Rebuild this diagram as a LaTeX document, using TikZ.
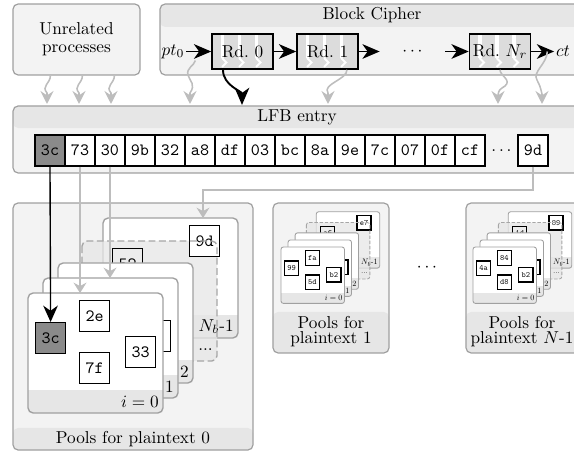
\documentclass[tikz,border=0pt]{standalone}
\usetikzlibrary{arrows.meta,calc}

\definecolor{panelfill}{HTML}{F3F3F3}
\definecolor{bandfill}{HTML}{E6E6E6}
\definecolor{paneledge}{HTML}{A0A0A0}
\definecolor{leakgray}{HTML}{BDBDBD}
\definecolor{hotcell}{HTML}{8A8A8A}
\definecolor{roundfill}{HTML}{DCDCDC}

\tikzset{
  panel/.style={draw=paneledge, fill=panelfill, line width=0.7pt, rounded corners=3pt, inner sep=0pt},
  topband/.style={path picture={\fill[bandfill] (path picture bounding box.north west) rectangle ([yshift=-#1]path picture bounding box.north east);}},
  bottomband/.style={path picture={\fill[bandfill] (path picture bounding box.south west) rectangle ([yshift=#1]path picture bounding box.south east);}},
  hexcell/.style={draw=black, line width=0.7pt, fill=white, minimum width=17.4pt, minimum height=18pt, inner sep=0pt, font=\ttfamily},
  hexhot/.style={hexcell, fill=hotcell},
  roundbox/.style={draw=black, line width=0.9pt, fill=roundfill, minimum width=35.4pt, minimum height=20.3pt, inner sep=0pt,
    path picture={\foreach \s in {9,26,43}{
      \fill[white] ([xshift=\s*0.58pt]path picture bounding box.north west) rectangle ++(3.5,24);
      \draw[white, line width=1.1pt] ([xshift=\s*0.58pt+0.6pt, yshift=-24*0.58pt]path picture bounding box.north west) -- ++(4.5,4.5) -- ++(-4.5,4.5);}}},
  flow/.style={black, line width=1.1pt, -{Stealth[length=10pt, width=8.5pt, inset=3pt]}},
  leak/.style={leakgray, line width=0.9pt, -{Stealth[length=7.5pt, width=7.5pt, inset=2.5pt]}},
  link/.style={leakgray, line width=0.7pt, -{Stealth[length=6pt, width=7.5pt, inset=2pt]}},
  hit/.style={black, line width=0.8pt, -{Stealth[length=9.5pt, width=8.5pt, inset=3pt]}},
  cardedge/.style={draw=paneledge, line width=0.8pt},
  cardround/.style={rounded corners=3pt},
  dashedcard/.style={draw=black!35, line width=0.8pt, dash pattern=on 4pt off 2pt},
  cardtag/.style={anchor=east, inner sep=0pt},
}

% one card of a pool: white face with a grey label strip at the bottom
\newcommand{\drawcard}[2]{%
  \fill[white, cardround] (#1,#2) rectangle ++(135,120);
  \begin{scope}
    \clip[cardround] (#1,#2) rectangle ++(135,120);
    \fill[bandfill] (#1,#2+97) rectangle ++(135,23);
  \end{scope}
  \draw[cardedge, cardround] (#1,#2) rectangle ++(135,120);}

% stack of pools i = 0 .. N_b-1
% #1 name prefix, #2 scope options, #3 style of the first byte,
% #4-#7 bytes on card 0, #8 byte on the dashed card, #9 byte on card N_b-1
\newcommand{\poolstack}[9]{%
  \begin{scope}[#2, transform shape]
    \drawcard{75}{-75}
    \fill[bandfill, fill opacity=0.75, cardround] (54,-52) rectangle ++(135,120);
    \node[cardtag] (#1tagN) at (206,33.5) {$N_b$-1};
    \node[hexcell, anchor=north west] (#1F) at (161,-68) {#9};
    \draw[dashedcard, cardround] (54,-52) rectangle ++(135,120);
    \node[cardtag] (#1tagD) at (185,56.5) {...};
    \node[hexcell, fill=none, anchor=north west] (#1E) at (84,-45) {#8};
    \drawcard{30}{-30}
    \node[cardtag] (#1tag2) at (161,78.5) {2};
    \drawcard{15}{-15}
    \node[hexcell, anchor=north west] (#1P) at (112,27) {};
    \node[cardtag] (#1tag1) at (146,93.5) {1};
    \drawcard{0}{0}
    \node[cardtag] (#1tag0) at (131,108.5) {$i=0$};
    \node[#3, anchor=north west] (#1A) at (7,29) {#4};
    \node[hexcell, anchor=north west] (#1B) at (51,7) {#5};
    \node[hexcell, anchor=north west] (#1C) at (97,43) {#6};
    \node[hexcell, anchor=north west] (#1D) at (51,59) {#7};
    \coordinate (#1top0) at (0,0);
    \coordinate (#1top1) at (15,-15);
    \coordinate (#1topN) at (75,-75);
  \end{scope}}

\begin{document}
\begin{tikzpicture}[x=0.58pt, y=-0.58pt]
\useasboundingbox (0,0) rectangle (574,451);
\clip (0,0) rectangle (574,451);

% panels
\node[panel, minimum width=73.66pt, minimum height=41.18pt, align=center,
      font=\fontsize{10}{10.6}\selectfont] (unrel) at (76.5,39.5) {Unrelated\\processes};
\node[panel, topband=13.3pt, minimum width=245.9pt, minimum height=41.18pt] (cipher) at (372,39.5) {};
\node (ciphertitle) at (372,15.5) {Block Cipher};
\node[panel, topband=12.8pt, minimum width=329.4pt, minimum height=38.9pt] (lfb) at (297,139.5) {};
\node (lfbtitle) at (297,117) {LFB entry};
\node[panel, bottomband=12.8pt, minimum width=139.2pt, minimum height=143.3pt] (pool0) at (133,326.5) {};
\node (pool0label) at (133,439) {Pools for plaintext 0};
\node[panel, bottomband=23.8pt, minimum width=67.3pt, minimum height=87pt] (pool1) at (331,278) {};
\node[align=center, font=\fontsize{10}{8.6}\selectfont] (pool1label) at (331,332) {Pools for\\plaintext 1};
\node[panel, bottomband=23.8pt, minimum width=67.3pt, minimum height=87pt] (poolN) at (524,278) {};
\node[align=center, font=\fontsize{10}{8.6}\selectfont] (poolNlabel) at (522,332) {Pools for\\plaintext $N$-1};
\node (pooldots) at (427,268) {$\cdots$};

% block cipher rounds
\node[inner sep=1pt] (pt) at (173,51.5) {$pt_0$};
\node[roundbox] (rd0) at (242.5,51.5) {Rd.~0};
\node[roundbox] (rd1) at (327.5,51.5) {Rd.~1};
\node[minimum width=37.7pt, inner sep=0pt] (rdots) at (412.5,51.5) {$\cdots$};
\node[roundbox] (rdN) at (500,51.5) {Rd.~$N_r$};
\node[inner sep=1pt] (ct) at (563,51.5) {$ct$};
\draw[flow] (pt) -- (rd0);
\draw[flow] (rd0) -- (rd1);
\draw[flow] (rd1) -- (rdots);
\draw[flow] (rdots) -- (rdN);
\draw[flow] (rdN) -- (ct);

% entry points into the line fill buffer
\coordinate (in1) at (47,104);
\coordinate (in2) at (79,104);
\coordinate (in3) at (111,104);
\coordinate (in4) at (190,104);
\coordinate (in5) at (242,105);
\coordinate (in6) at (328,104);
\coordinate (in7) at (498,104);
\coordinate (in8) at (542,104);

\draw[leak] ($(unrel.south west)+(38,0)$) .. controls +(0,8) and (41,86) .. (47,93) -- (in1);
\draw[leak] ($(unrel.south west)+(70,0)$) .. controls +(0,8) and (73,86) .. (79,93) -- (in2);
\draw[leak] ($(unrel.south west)+(102,0)$) .. controls +(0,8) and (105,86) .. (111,93) -- (in3);
\draw[leak] ($(pt.south east)+(9,0)$) .. controls (194,66) and (186,68) .. (188,75)
  .. controls (190,82) and (196,84) .. (190,93) -- (in4);
\draw[flow] ([xshift=-19.5*0.58pt]rd0.south) .. controls +(0,16) and +(0,-14) .. (in5);
\draw[leak] ([xshift=19.5*0.58pt]rd1.south) .. controls +(0,10) and (322,84) .. (328,93) -- (in6);
\draw[leak] (rdN.south) .. controls +(0,6) and (512,80) .. (505,86) .. controls (499,90) .. (498,95) -- (in7);
\draw[leak] ($(rdN.east)+(16,0)$) .. controls (547,64) and (532,72) .. (537,80) .. controls (540,86) .. (542,94) -- (in8);

% bytes of the LFB entry
\node[hexhot] (c1) at (50,150.5) {3c};
\foreach \t [count=\i from 2] in {73,30,9b,32,a8,df,03,bc,8a,9e,7c,07,0f,cf}
  \node[hexcell] (c\i) at ({20+30*\i},150.5) {\t};
\node (cdots) at (501.5,150.5) {$\ldots$};
\node[hexcell] (c17) at (533,150.5) {9d};

% pools
\poolstack{p0}{shift={(28,293)}}{hexhot}{3c}{2e}{33}{7f}{52}{9d}
\poolstack{p1}{shift={(281,247)}, scale=0.47, cardround/.style={rounded corners=1.4pt},
  cardedge/.style={draw=paneledge, line width=0.5pt},
  dashedcard/.style={draw=black!35, line width=0.5pt, dash pattern=on 2pt off 1pt}}{hexcell}{99}{fa}{b2}{5d}{a6}{e7}
\poolstack{pN}{shift={(473,247)}, scale=0.47, cardround/.style={rounded corners=1.4pt},
  cardedge/.style={draw=paneledge, line width=0.5pt},
  dashedcard/.style={draw=black!35, line width=0.5pt, dash pattern=on 2pt off 1pt}}{hexcell}{4a}{84}{b2}{d8}{1d}{89}

% bytes sorted into their pools
\coordinate (route) at (203,190);
\draw[link] (c2.south) -- (c2.south |- p0top0);
\draw[link] (c3.south) -- (c3.south |- p0top1);
\draw[link] (c17.south) |- (route) -- (route |- p0topN);
\draw[hit] (c1.south) -- (p0A.north);

\end{tikzpicture}
\end{document}
